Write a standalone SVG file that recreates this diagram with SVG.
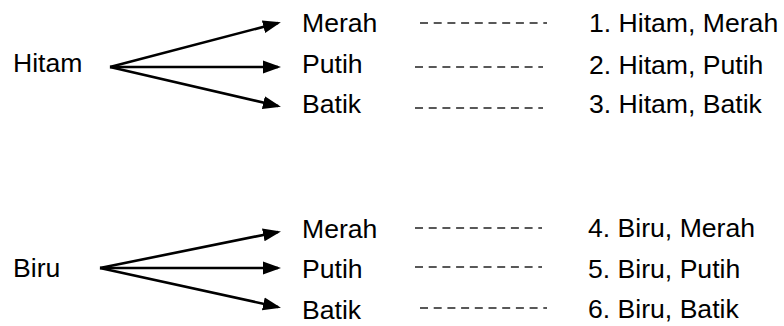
<svg xmlns="http://www.w3.org/2000/svg" width="784" height="326" viewBox="0 0 784 326">
<defs>
<style>
text{font-family:"Liberation Sans",Arial,sans-serif;font-size:26.6px;fill:#000}
.arr{stroke:#000;stroke-width:2.6;fill:none;marker-end:url(#ah)}
.dash{stroke:#222;stroke-width:1.4;stroke-dasharray:8 5.7;fill:none}
</style>
<marker id="ah" markerUnits="userSpaceOnUse" markerWidth="18" markerHeight="16" viewBox="0 0 18 16" refX="15" refY="8" orient="auto">
<path d="M0,1.5 L18,8 L0,14.5 z" fill="#000"/>
</marker>
</defs>
<g id="connectors">
<line class="arr" x1="110" y1="67" x2="278" y2="23"/>
<line class="arr" x1="110" y1="67" x2="278" y2="67"/>
<line class="arr" x1="110" y1="67" x2="278" y2="106"/>
<line class="arr" x1="100" y1="268" x2="278" y2="232"/>
<line class="arr" x1="100" y1="268" x2="278" y2="268"/>
<line class="arr" x1="100" y1="268" x2="278" y2="307"/>
<line class="dash" x1="420" y1="23" x2="547" y2="23"/>
<line class="dash" x1="415" y1="67" x2="543" y2="67"/>
<line class="dash" x1="415" y1="108" x2="543" y2="108"/>
<line class="dash" x1="415" y1="228" x2="542" y2="228"/>
<line class="dash" x1="415" y1="267" x2="542" y2="267"/>
<line class="dash" x1="420" y1="308" x2="547" y2="308"/>
</g>
<g id="hitam"><text x="13" y="72">Hitam</text></g>
<g id="h-merah"><text x="302" y="32">Merah</text></g>
<g id="h-putih"><text x="302" y="73">Putih</text></g>
<g id="h-batik"><text x="302" y="113">Batik</text></g>
<g id="r1"><text x="589" y="32">1. Hitam, Merah</text></g>
<g id="r2"><text x="589" y="74">2. Hitam, Putih</text></g>
<g id="r3"><text x="589" y="113">3. Hitam, Batik</text></g>
<g id="biru"><text x="13" y="277">Biru</text></g>
<g id="b-merah"><text x="302" y="238">Merah</text></g>
<g id="b-putih"><text x="302" y="278">Putih</text></g>
<g id="b-batik"><text x="302" y="319">Batik</text></g>
<g id="r4"><text x="588" y="237">4. Biru, Merah</text></g>
<g id="r5"><text x="588" y="278">5. Biru, Putih</text></g>
<g id="r6"><text x="588" y="318">6. Biru, Batik</text></g>
</svg>
